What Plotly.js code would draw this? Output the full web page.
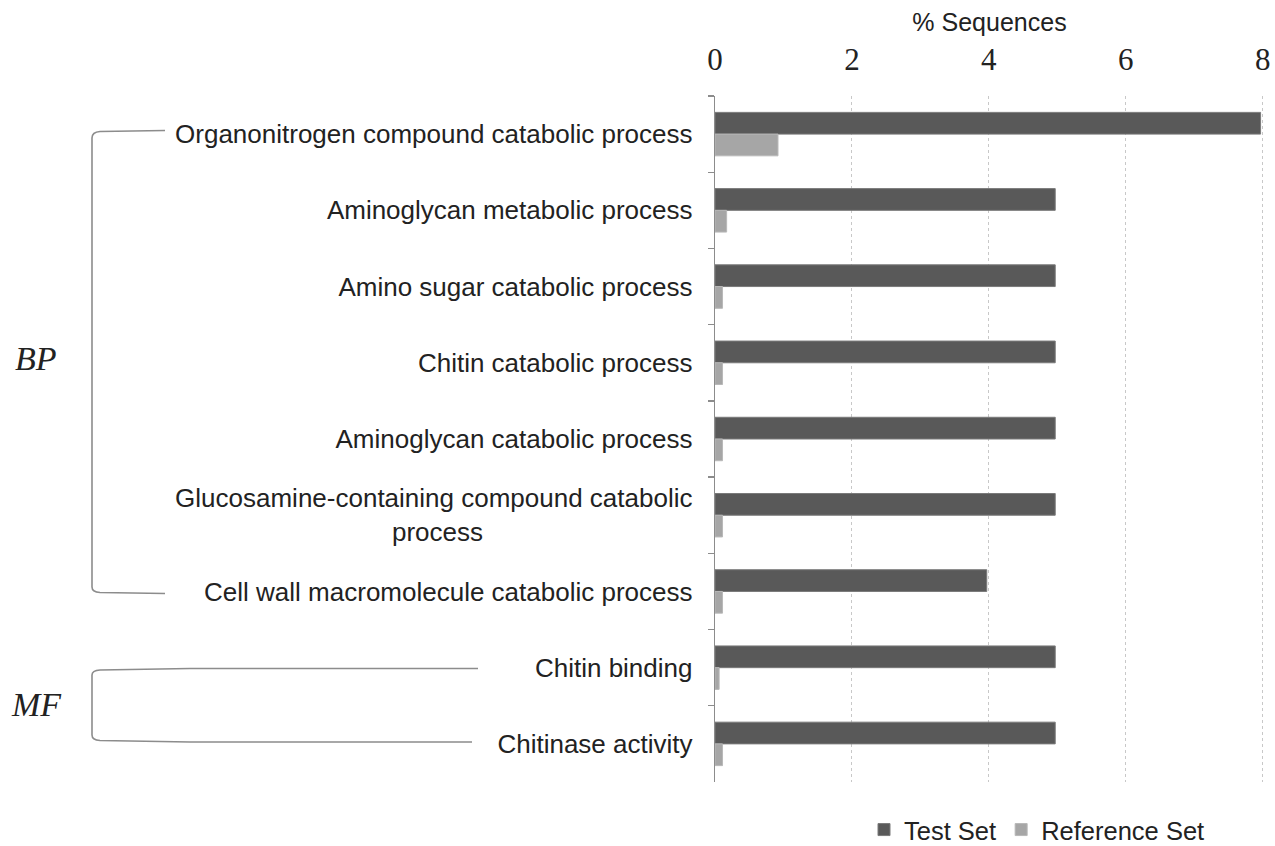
<!DOCTYPE html>
<html>
<head>
<meta charset="utf-8">
<script src="https://cdn.plot.ly/plotly-3.0.1.min.js"></script>
<style>html,body{margin:0;padding:0;background:#fff;}#chart{width:1275px;height:846px;}</style>
</head>
<body>
<div id="chart"></div>
<script>
const categories = [
  "Organonitrogen compound catabolic process",
  "Aminoglycan metabolic process",
  "Amino sugar catabolic process",
  "Chitin catabolic process",
  "Aminoglycan catabolic process",
  "Glucosamine-containing compound catabolic<br>process" + "\u00a0".repeat(29),
  "Cell wall macromolecule catabolic process",
  "Chitin binding",
  "Chitinase activity"
];
const testSet = [7.97, 4.97, 4.97, 4.97, 4.97, 4.97, 3.97, 4.97, 4.97];
const referenceSet = [0.92, 0.17, 0.11, 0.11, 0.11, 0.11, 0.11, 0.06, 0.11];
const seriesNames = ["Test Set", "Reference Set"];
const xTicks = [0, 2, 4, 6, 8];

const W = 1275, H = 846;
const L = 715, R = 1264, T = 96, B = 782;
const px = x => (x - L) / (R - L);
const py = y => (B - y) / (B - T);
function P(x, y) { return px(x).toFixed(5) + "," + py(y).toFixed(5); }

const traces = [
  {type: "bar", orientation: "h", name: seriesNames[0], y: categories, x: testSet,
   marker: {color: "#595959", line: {color: "#7a7a7a", width: 1}}},
  {type: "bar", orientation: "h", name: seriesNames[1], y: categories, x: referenceSet,
   marker: {color: "#a6a6a6", line: {color: "#b8b8b8", width: 1}}}
];

const bracketLine = {color: "#8c8c8c", width: 1.6};
const shapes = [
  {type: "path", xref: "paper", yref: "paper", line: bracketLine,
   path: "M" + P(165, 130.5) + " L" + P(100, 131.5) + " Q" + P(92, 132) + " " + P(92, 138) +
         " L" + P(92, 587) + " Q" + P(92, 592) + " " + P(100, 592.5) + " L" + P(165, 593.5)},
  {type: "path", xref: "paper", yref: "paper", line: bracketLine,
   path: "M" + P(478, 668.5) + " L" + P(190, 668.5) + " L" + P(100, 670) + " Q" + P(92, 670.5) + " " + P(92, 675) +
         " L" + P(92, 735) + " Q" + P(92, 740) + " " + P(100, 740.5) + " L" + P(190, 742) + " L" + P(472, 742)}
];

const annotations = [
  {xref: "paper", yref: "paper", x: px(36), y: py(359), text: "BP", showarrow: false,
   xanchor: "center", yanchor: "middle",
   font: {family: "Liberation Serif, serif", size: 34, color: "#222", style: "italic"}},
  {xref: "paper", yref: "paper", x: px(36), y: py(704), text: "MF", showarrow: false,
   xanchor: "center", yanchor: "middle",
   font: {family: "Liberation Serif, serif", size: 34, color: "#222", style: "italic"}}
];

const layout = {
  width: W, height: H,
  margin: {l: L, r: W - R, t: T, b: H - B, pad: 0},
  paper_bgcolor: "#fff", plot_bgcolor: "#fff",
  barmode: "group", bargap: 0.43, bargroupgap: 0,
  showlegend: true,
  legend: {orientation: "h", xref: "container", yref: "container",
           x: 864 / W, y: 1 - 830 / H, xanchor: "left", yanchor: "middle",
           font: {family: "Liberation Sans, Arial, sans-serif", size: 25.5, color: "#222"},
           itemwidth: 30, tracegroupgap: 0, bgcolor: "rgba(0,0,0,0)"},
  xaxis: {
    side: "top", range: [0, 8.02], tickvals: xTicks, ticktext: xTicks.map(String),
    showgrid: true, gridcolor: "#c8c8c8", griddash: "dot", gridwidth: 1,
    zeroline: false, showline: false, ticks: "",
    tickfont: {family: "Liberation Serif, serif", size: 31, color: "#222"},
    ticklabelstandoff: 19,
    title: {text: "% Sequences", standoff: 3,
            font: {family: "Liberation Sans, Arial, sans-serif", size: 25, color: "#222"}},
    fixedrange: true
  },
  yaxis: {
    type: "category", autorange: "reversed",
    showline: true, linecolor: "#8c8c8c", linewidth: 1.3,
    ticks: "outside", tickson: "boundaries", ticklen: 6, tickcolor: "#8c8c8c", tickwidth: 1.3,
    showgrid: false, zeroline: false,
    tickfont: {family: "Liberation Sans, Arial, sans-serif", size: 26, color: "#222"},
    ticklabelstandoff: 16,
    fixedrange: true
  },
  shapes: shapes,
  annotations: annotations
};

Plotly.newPlot("chart", traces, layout, {displayModeBar: false, staticPlot: true});
</script>
</body>
</html>
